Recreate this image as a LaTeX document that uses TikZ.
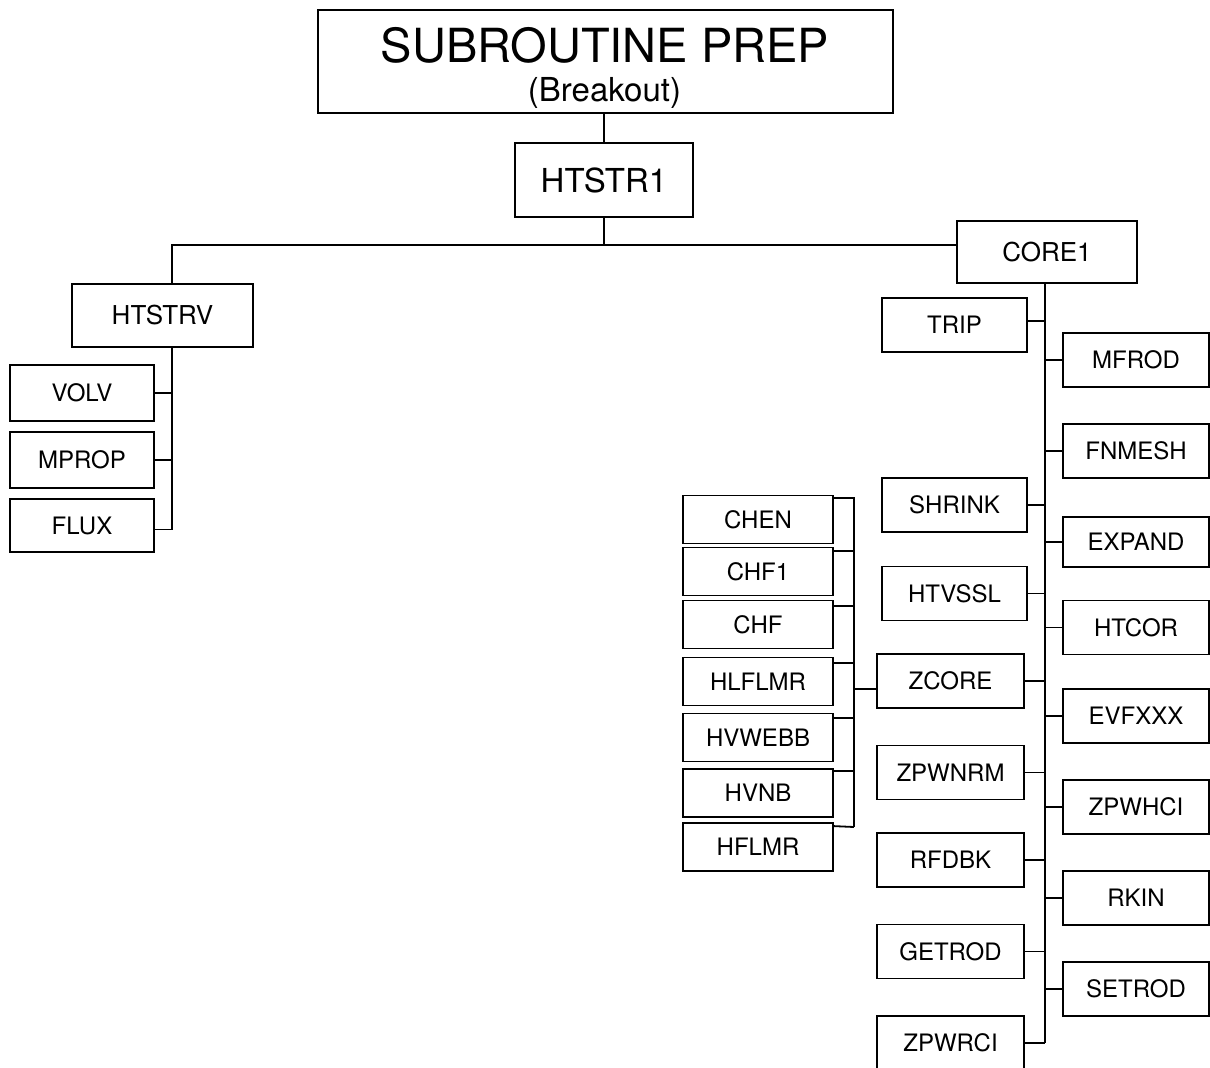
\documentclass[tikz,border=0pt]{standalone}
\usepackage{fontspec}
\setmainfont{TeX Gyre Heros}
\usetikzlibrary{calc}
\tikzset{
  prepbox/.style={rectangle, draw=black, line width=1.8pt, minimum width=575pt, minimum height=103pt, inner sep=0pt},
  subbox/.style={rectangle, draw=black, line width=1.8pt, minimum width=146pt, minimum height=54pt, inner sep=0pt, font=\fontsize{24}{28}\selectfont},
  bigbox/.style={subbox, font=\fontsize{26}{30}\selectfont},
  chfbox/.style={subbox, minimum width=150pt, minimum height=48pt},
  callline/.style={draw=black, line width=1.8pt},
}

\begin{document}
\begin{tikzpicture}[x=1pt,y=-1pt]
  \useasboundingbox[fill=white] (0,0) rectangle (1210,1068);

  % Top of the tree
  \node[prepbox] (prep) at (605.5,61.5) {};
  \node[font=\fontsize{47}{47}\selectfont, anchor=base] (preptitle) at (605,62) {SUBROUTINE PREP};
  \node[font=\fontsize{33}{33}\selectfont, anchor=base] (prepsub) at (604.5,101) {(Breakout)};
  \node[subbox, minimum width=178pt, minimum height=74pt, font=\fontsize{33}{36}\selectfont] (htstr1) at (604,180) {HTSTR1};
  \node[bigbox, minimum width=180pt, minimum height=62pt] (core1) at (1047,252) {CORE1};
  \node[bigbox, minimum width=181pt, minimum height=63pt] (htstrv) at (162.5,315.5) {HTSTRV};

  % HTSTRV branch
  \node[subbox, minimum width=144pt, minimum height=56pt] (volv) at (82,393) {VOLV};
  \node[subbox, minimum width=144pt, minimum height=56pt] (mprop) at (82,460) {MPROP};
  \node[subbox, minimum width=144pt, minimum height=53pt] (flux) at (82,525.5) {FLUX};

  % CORE1 branch, left column
  \node[subbox, minimum width=145pt] (trip) at (954.5,325) {TRIP};
  \node[subbox, minimum width=145pt] (shrink) at (954.5,505) {SHRINK};
  \node[subbox, minimum width=145pt] (htvssl) at (954.5,593.5) {HTVSSL};
  \node[subbox, minimum width=147pt] (zcore) at (950.5,681) {ZCORE};
  \node[subbox, minimum width=147pt] (zpwnrm) at (950.5,772.5) {ZPWNRM};
  \node[subbox, minimum width=147pt] (rfdbk) at (950.5,860) {RFDBK};
  \node[subbox, minimum width=147pt] (getrod) at (950.5,951.5) {GETROD};
  \node[subbox, minimum width=147pt] (zpwrci) at (950.5,1043) {ZPWRCI};

  % CORE1 branch, right column
  \node[subbox] (mfrod) at (1136,360) {MFROD};
  \node[subbox] (fnmesh) at (1136,451) {FNMESH};
  \node[subbox, minimum height=50pt] (expand) at (1136,542) {EXPAND};
  \node[subbox] (htcor) at (1136,627.5) {HTCOR};
  \node[subbox] (evfxxx) at (1136,716) {EVFXXX};
  \node[subbox] (zpwhci) at (1136,807) {ZPWHCI};
  \node[subbox] (rkin) at (1136,898) {RKIN};
  \node[subbox] (setrod) at (1136,989) {SETROD};

  % ZCORE branch
  \node[chfbox] (chen) at (758,519.5) {CHEN};
  \node[chfbox] (chf1) at (758,571.5) {CHF1};
  \node[chfbox] (chf) at (758,624.5) {CHF};
  \node[chfbox] (hlflmr) at (758,681.5) {HLFLMR};
  \node[chfbox] (hvwebb) at (758,737.5) {HVWEBB};
  \node[chfbox] (hvnb) at (758,793) {HVNB};
  \node[chfbox] (hflmr) at (758,847) {HFLMR};

  % Junction points
  \coordinate (jtop) at (604,245);
  \coordinate (jleft) at (172,245);
  \coordinate (brk) at (854,827);

  % Connections, top
  \draw[callline] (htstr1.north |- prep.south) -- (htstr1.north);
  \draw[callline] (htstr1.south) -- (jtop);
  \draw[callline] (jleft |- htstrv.north) -- (jleft) -- (core1.west |- jleft);

  % Connections, HTSTRV
  \draw[callline] (jleft |- htstrv.south) -- ([yshift=-4pt]jleft |- flux.east);
  \draw[callline] (volv.east) -- (jleft |- volv.east);
  \draw[callline] (mprop.east) -- (jleft |- mprop.east);
  \draw[callline] ([yshift=-4pt]flux.east) -- ([yshift=-4pt]jleft |- flux.east);

  % Connections, CORE1
  \draw[callline] ([xshift=-2pt]core1.south) -- ([xshift=-2pt]core1.south |- zpwrci.east);
  \draw[callline] ([yshift=4pt]trip.east) -- ([xshift=-2pt,yshift=4pt]core1.south |- trip.east);
  \draw[callline] (shrink.east) -- ([xshift=-2pt]core1.south |- shrink.east);
  \draw[callline] (htvssl.east) -- ([xshift=-2pt]core1.south |- htvssl.east);
  \draw[callline] (zcore.east) -- ([xshift=-2pt]core1.south |- zcore.east);
  \draw[callline] (zpwnrm.east) -- ([xshift=-2pt]core1.south |- zpwnrm.east);
  \draw[callline] (rfdbk.east) -- ([xshift=-2pt]core1.south |- rfdbk.east);
  \draw[callline] (getrod.east) -- ([xshift=-2pt]core1.south |- getrod.east);
  \draw[callline] (zpwrci.east) -- ([xshift=-2pt]core1.south |- zpwrci.east);
  \draw[callline] (mfrod.west) -- ([xshift=-2pt]core1.south |- mfrod.west);
  \draw[callline] (fnmesh.west) -- ([xshift=-2pt]core1.south |- fnmesh.west);
  \draw[callline] (expand.west) -- ([xshift=-2pt]core1.south |- expand.west);
  \draw[callline] (htcor.west) -- ([xshift=-2pt]core1.south |- htcor.west);
  \draw[callline] (evfxxx.west) -- ([xshift=-2pt]core1.south |- evfxxx.west);
  \draw[callline] (zpwhci.west) -- ([xshift=-2pt]core1.south |- zpwhci.west);
  \draw[callline] (rkin.west) -- ([xshift=-2pt]core1.south |- rkin.west);
  \draw[callline] (setrod.west) -- ([xshift=-2pt]core1.south |- setrod.west);

  % Connections, ZCORE
  \draw[callline] ([yshift=-3pt]chen.north east) -| (brk);
  \draw[callline] ([yshift=-4pt]chf1.north east) -- ++(21,0);
  \draw[callline] ([yshift=-6pt]chf.north east) -- ++(21,0);
  \draw[callline] ([yshift=-6pt]hlflmr.north east) -- ++(21,0);
  \draw[callline] ([yshift=-5pt]hvwebb.north east) -- ++(21,0);
  \draw[callline] ([yshift=-3pt]hvnb.north east) -- ++(21,0);
  \draw[callline] ([yshift=-4pt]hflmr.north east) -- (brk);
  \draw[callline] ([yshift=-8pt]zcore.west) -- ([yshift=-8pt]brk |- zcore.west);
\end{tikzpicture}
\end{document}
